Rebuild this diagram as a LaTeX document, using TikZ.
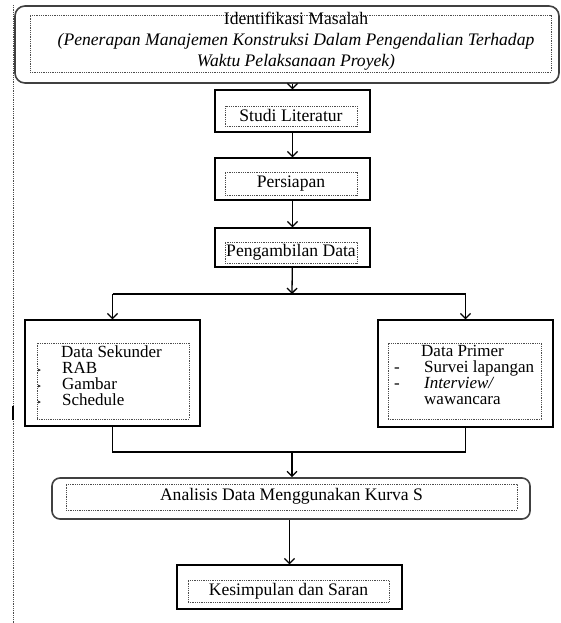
\documentclass[tikz,border=0pt]{standalone}
\usepackage{fontspec}
\setmainfont{Liberation Serif}
\newfontfamily\simbol{DejaVu Sans}
\usetikzlibrary{arrows.meta}

\begin{document}
\begin{tikzpicture}[x=1pt,y=-1pt,font=\fontsize{17.6}{15.5}\selectfont]
        \tikzstyle{kotak}=[draw, line width=1.3pt, inner sep=0pt]
        \tikzstyle{bulat}=[kotak, draw=black!75, rounded corners=10pt, line width=1.6pt]
        \tikzstyle{titik}=[draw=black!70, densely dotted, line width=0.8pt, inner sep=0pt]
        \tikzstyle{daftar}=[anchor=north west, align=left, inner sep=0pt, font=\fontsize{17}{16}\selectfont]
        \tikzstyle{panah}=[-{Straight Barb[length=5pt,width=10pt]}, line width=1.3pt]
        \useasboundingbox (0,0) rectangle (561,623);
        \draw[black!70, densely dotted, line width=0.8pt] (13,5) -- (13,623);
        \draw[line width=2.5pt] (13,406) -- (13,420);

        \node[bulat, minimum width=544pt, minimum height=77pt] (masalah) at (287,44.5) {};
        \node[titik, minimum width=521pt, minimum height=57pt] (masalahT) at (290.5,43.5) {};
        \node[align=center, font=\fontsize{17.6}{21}\selectfont] (masalahTeks) at (296,41) {Identifikasi Masalah\\ \textit{(Penerapan Manajemen Konstruksi Dalam Pengendalian Terhadap}\\ \textit{Waktu Pelaksanaan Proyek)}};

        \node[kotak, minimum width=155pt, minimum height=42pt] (studi) at (292.5,111) {};
        \node[titik, minimum width=132pt, minimum height=20pt] (studiT) at (291,116) {\raisebox{2pt}{Studi Literatur}};
        \node[kotak, minimum width=155pt, minimum height=42pt] (persiapan) at (292.5,179) {};
        \node[titik, minimum width=132pt, minimum height=23pt] (persiapanT) at (291,183.5) {\raisebox{3pt}{Persiapan}};
        \node[kotak, minimum width=155pt, minimum height=39pt] (data) at (292.5,247.5) {};
        \node[titik, minimum width=132pt, minimum height=21pt] (dataT) at (291,252.5) {\raisebox{4pt}{Pengambilan Data}};

        \node[kotak, minimum width=175pt, minimum height=106pt] (sekunder) at (112.5,373) {};
        \node[titik, minimum width=152pt, minimum height=76pt] (sekunderT) at (113,381) {};
        \node[daftar] (sekunderTeks) at (37,345) {\hspace*{24pt}Data Sekunder\\
                \makebox[25pt][l]{\simbol\fontsize{8}{8}\selectfont ‣}RAB\\
                \makebox[25pt][l]{\simbol\fontsize{8}{8}\selectfont ‣}Gambar\\
                \makebox[25pt][l]{\simbol\fontsize{8}{8}\selectfont ‣}Schedule};

        \node[kotak, minimum width=175pt, minimum height=107pt] (primer) at (465.5,373.5) {};
        \node[titik, minimum width=153pt, minimum height=76pt] (primerT) at (464.5,381) {};
        \node[daftar] (primerTeks) at (394,345) {\hspace*{27pt}Data Primer\\
                \makebox[30pt][l]{-}Survei lapangan\\
                \makebox[30pt][l]{-}\textit{Interview/}\\
                \hspace*{30pt}wawancara};

        \node[bulat, rounded corners=8pt, minimum width=478pt, minimum height=41pt] (analisis) at (291,498.5) {};
        \node[titik, minimum width=451pt, minimum height=26pt] (analisisT) at (291.5,497) {\raisebox{5pt}{Analisis Data Menggunakan Kurva S}};

        \node[kotak, minimum width=225pt, minimum height=44pt] (simpulan) at (289.5,587) {};
        \node[titik, minimum width=201pt, minimum height=22pt] (simpulanT) at (288.5,591) {\raisebox{3pt}{Kesimpulan dan Saran}};

        \coordinate (cabang) at (292,294);
        \coordinate (gabung) at (292,452);

        \draw[panah] (studi.north |- masalah.south) -- (studi.north);
        \draw[panah] (studi) -- (persiapan);
        \draw[panah] (persiapan) -- (data);
        \draw[panah] (data) -- (cabang);
        \draw[line width=1.3pt] (sekunder.north |- cabang) -- (primer.north |- cabang);
        \draw[panah] (sekunder.north |- cabang) -- (sekunder.north);
        \draw[panah] (primer.north |- cabang) -- (primer.north);
        \draw[line width=1.3pt] (sekunder.south) -- (sekunder.south |- gabung) -- (primer.south |- gabung) -- (primer.south);
        \draw[panah] (gabung) -- (analisis.north -| gabung);
        \draw[panah] (simpulan.north |- analisis.south) -- (simpulan.north);
\end{tikzpicture}
\end{document}
